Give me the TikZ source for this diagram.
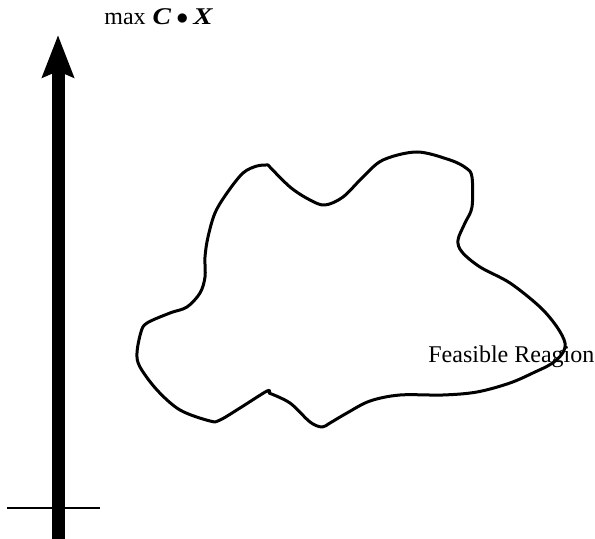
\documentclass[12pt,tikz,border=0pt]{standalone}
\usepackage{graphicx}
\usepackage{fontspec}
\setmainfont{Liberation Serif}
\usetikzlibrary{arrows.meta}

\begin{document}
\begin{tikzpicture}[x=0.5pt,y=-0.5pt,
  region/.style={line width=1.5pt,line join=round,line cap=round},
  objarrow/.style={line width=6.5pt,-{Stealth[length=21pt,width=15.5pt,inset=3pt]}},
  label/.style={anchor=base west,inner sep=0pt}]
\useasboundingbox (0,0) rectangle (595,539);
\coordinate (base) at (58,539);
\coordinate (tip) at (58,35);
\coordinate (tickl) at (7,508);
\coordinate (tickr) at (100,508);
\draw[line width=1pt] (tickl) -- (tickr);
\draw[objarrow] (base) -- (tip);
\draw[region] plot[smooth,tension=0.55] coordinates {
  (268,165) (290,187) (310,200) (325,205) (343,197) (363,177) (383,160)
  (417,152) (450,160) (466,168) (472,177) (472,207) (465,223) (458,240)
  (462,252) (480,267) (510,283) (540,307) (557,327) (565,343) (562,354)
  (551,364) (535,372) (510,383) (477,392) (443,395) (400,395) (370,401)
  (347,413) (330,423) (322,427) (310,422) (290,403) (269,393)}
  -- plot[smooth,tension=0.55] coordinates {
  (269,393) (267,391) (240,408) (220,420) (210,421) (180,410) (157,390)
  (140,367) (137,353) (141,332) (147,323) (170,313) (187,307) (200,293)
  (205,277) (205,257) (208,237) (215,213) (227,193) (243,173) (257,166)
  (268,165)} -- cycle;
\node[label] (goal) at (104,25)
  {max\hspace{3.5pt}\scalebox{1.15}[1]{\textbf{\textit{C}}}\hspace{2.5pt}$\bullet$\hspace{2.5pt}\scalebox{1.2}[1]{\textbf{\textit{X}}}};
\node[label] (feas) at (428,363) {Feasible Reagion};
\end{tikzpicture}
\end{document}
